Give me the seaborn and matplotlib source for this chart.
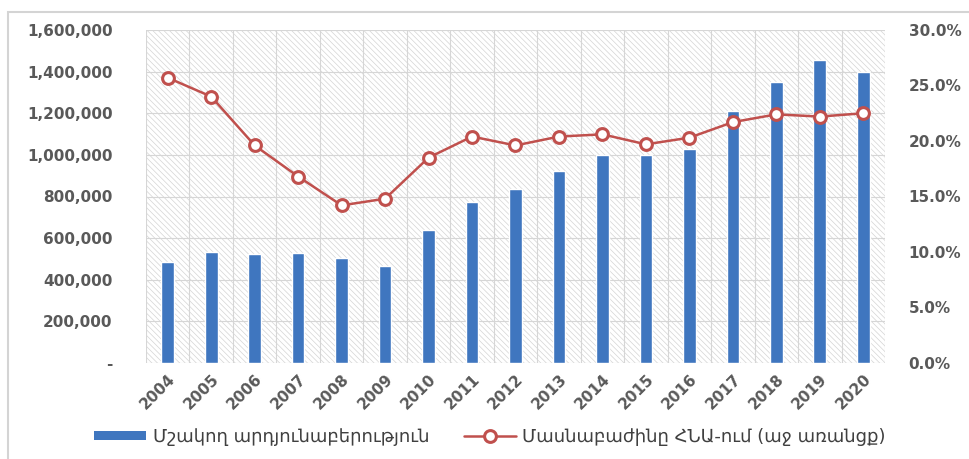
import numpy as np
import pandas as pd
import matplotlib
matplotlib.use("Agg")
import matplotlib.pyplot as plt
import seaborn as sns
from matplotlib.patches import Patch, Rectangle
from matplotlib.lines import Line2D
from matplotlib.ticker import FuncFormatter, MultipleLocator

years = [str(y) for y in range(2004, 2021)]
manufacturing = [485000, 533000, 524000, 530000, 505000, 466000, 639000, 773000,
                 836000, 922000, 1000000, 997000, 1028000, 1211000, 1352000,
                 1456000, 1398000]
gdp_share = [25.7, 24.0, 19.6, 16.8, 14.2, 14.8, 18.5, 20.4, 19.6, 20.4, 20.6,
             19.7, 20.3, 21.7, 22.4, 22.2, 22.5]
bar_label = "Մշակող արդյունաբերություն"
line_label = "Մասնաբաժինը ՀՆԱ-ում (աջ առանցք)"

df = pd.DataFrame({"year": years, "value": manufacturing, "share": gdp_share})

sns.set_theme(style="white")
plt.rcParams["font.family"] = ["DejaVu Sans"]
plt.rcParams["hatch.linewidth"] = 0.5

BLUE = "#3f76bf"
RED = "#c0504d"
TXT = "#595959"

fig = plt.figure(figsize=(9.7, 4.59), dpi=100)
ax = fig.add_axes([146 / 970, 1 - 363 / 459, (885 - 146) / 970, (363 - 30) / 459])

ax.add_patch(Rectangle((0, 0), 1, 1, transform=ax.transAxes, facecolor="white",
                       edgecolor="#d4d4d4", hatch="\\\\\\\\\\\\", lw=0, zorder=0))

sns.barplot(data=df, x="year", y="value", order=years, color=BLUE,
            saturation=1, width=0.29, ax=ax, zorder=3)
ax.set_ylim(0, 1600000)
ax.set_xlim(-0.5, len(years) - 0.5)
ax.yaxis.set_major_locator(MultipleLocator(200000))
ax.yaxis.set_major_formatter(FuncFormatter(lambda v, p: "-" if v == 0 else f"{int(v):,}"))
ax.set_xlabel("")
ax.set_ylabel("")

# gridlines
for yv in np.arange(200000, 1600001, 200000):
    ax.axhline(yv, color="#d6d6d6", lw=0.8, zorder=1)
for xv in np.arange(-0.5, len(years), 1.0):
    ax.axvline(xv, color="#d6d6d6", lw=0.8, zorder=1)
ax.axhline(0, color="#d0d0d0", lw=0.8, zorder=2)

for s in ax.spines.values():
    s.set_visible(False)

ax2 = ax.twinx()
sns.pointplot(data=df, x="year", y="share", order=years, color=RED, ax=ax2,
              markers="o", linestyles="-", markersize=8.5, markerfacecolor="white",
              markeredgecolor=RED, markeredgewidth=2.2, linewidth=1.8)
ax2.set_ylim(0, 30)
ax2.set_xlim(-0.5, len(years) - 0.5)
ax2.yaxis.set_major_locator(MultipleLocator(5))
ax2.yaxis.set_major_formatter(FuncFormatter(lambda v, p: f"{v:.1f}%"))
ax2.set_ylabel("")
ax2.set_xlabel("")
for s in ax2.spines.values():
    s.set_visible(False)

ax.tick_params(axis="y", length=0, pad=24, labelsize=11, labelcolor=TXT)
ax2.tick_params(axis="y", length=0, pad=17, labelsize=11, labelcolor=TXT)
for lab in ax.get_yticklabels() + ax2.get_yticklabels():
    lab.set_fontweight("bold")

ax.set_xticks(range(len(years)))
ax.set_xticklabels(years, rotation=45, ha="right", rotation_mode="anchor",
                   fontsize=11, fontweight="bold", color=TXT)
ax.tick_params(axis="x", length=0, pad=6)

handles = [Patch(facecolor=BLUE, edgecolor="none"),
           Line2D([0], [0], color=RED, lw=1.8, marker="o", markersize=8.5,
                  markerfacecolor="white", markeredgecolor=RED, markeredgewidth=2.2)]
leg = fig.legend(handles, [bar_label, line_label], loc="center",
                 bbox_to_anchor=(0.505, 1 - 437 / 459), ncol=2, frameon=False,
                 fontsize=13, handlelength=2.9, handleheight=0.45,
                 columnspacing=1.9, handletextpad=0.35)
for t in leg.get_texts():
    t.set_color("#404040")

fig.patches.append(Rectangle((8 / 970, -0.05), 1.0, 1.05 - 12 / 459,
                             transform=fig.transFigure, fill=False,
                             edgecolor="#d4d4d4", lw=1.5, zorder=-1))

fig.savefig("out.png", dpi=100)
